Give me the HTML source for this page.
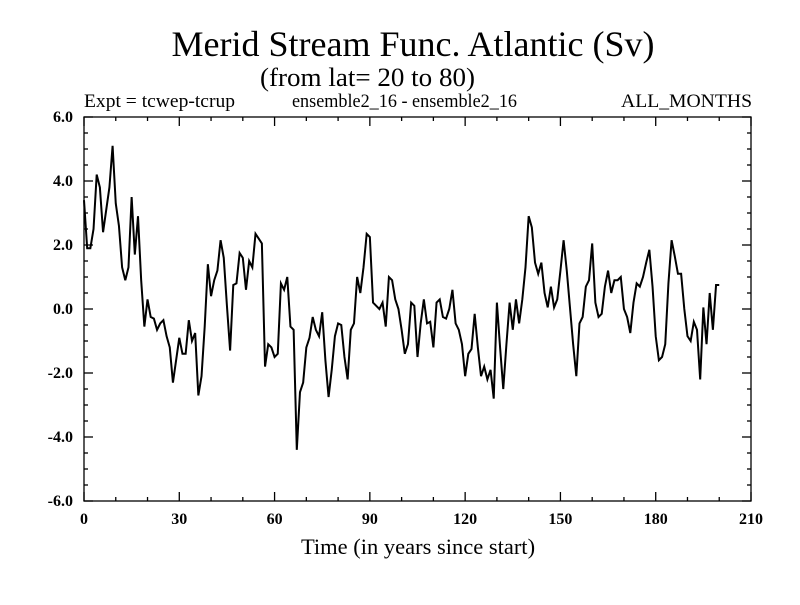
<!DOCTYPE html>
<html><head><meta charset="utf-8"><style>
body{margin:0;background:#fff}
svg text{font-family:"Liberation Serif",serif;fill:#000}
</style></head><body>
<svg id="chart" width="800" height="600" xmlns="http://www.w3.org/2000/svg">
<rect width="800" height="600" fill="#fff"/>
<text x="413" y="56" font-size="36" text-anchor="middle">Merid Stream Func. Atlantic (Sv)</text>
<text x="260" y="86" font-size="26" textLength="215" lengthAdjust="spacingAndGlyphs">(from lat= 20 to 80)</text>
<text x="84" y="107" font-size="19" textLength="151" lengthAdjust="spacingAndGlyphs">Expt = tcwep-tcrup</text>
<text x="292" y="107" font-size="19" textLength="225" lengthAdjust="spacingAndGlyphs">ensemble2_16 - ensemble2_16</text>
<text x="621" y="107" font-size="19" textLength="131" lengthAdjust="spacingAndGlyphs">ALL_MONTHS</text>
<text x="418" y="554" font-size="22.5" text-anchor="middle">Time (in years since start)</text>
<rect x="84" y="117" width="667" height="384" fill="none" stroke="#000" stroke-width="1.3"/>
<g id="ticks"></g>
<path id="series" fill="none" stroke="#000" stroke-width="2"/>
</svg>
<script>
const xTicks=[0,30,60,90,120,150,180,210];
const yTicks=[-6,-4,-2,0,2,4,6];
const yTickLabels=["-6.0","-4.0","-2.0","0.0","2.0","4.0","6.0"];
const values=[3.4,1.9,1.9,2.5,4.2,3.8,2.4,3.1,3.8,5.1,3.3,2.6,1.3,0.9,1.3,3.5,1.7,2.9,0.9,-0.55,
0.3,-0.25,-0.3,-0.65,-0.45,-0.35,-0.85,-1.2,-2.3,-1.6,-0.9,-1.4,-1.4,-0.35,-1.0,-0.75,-2.7,-2.1,-0.55,1.4,
0.4,0.9,1.2,2.15,1.6,0.1,-1.3,0.75,0.8,1.75,1.6,0.6,1.5,1.3,2.35,2.2,2.05,-1.8,-1.1,-1.2,
-1.5,-1.4,0.8,0.6,1.0,-0.55,-0.65,-4.4,-2.6,-2.3,-1.2,-0.9,-0.25,-0.65,-0.85,-0.1,-1.6,-2.75,-1.9,-0.85,
-0.45,-0.5,-1.5,-2.2,-0.65,-0.45,1.0,0.5,1.3,2.35,2.25,0.2,0.1,0,0.2,-0.55,1.0,0.9,0.3,0,
-0.65,-1.4,-1.1,0.2,0.1,-1.5,-0.45,0.3,-0.45,-0.4,-1.2,0.2,0.3,-0.25,-0.3,0,0.6,-0.45,-0.65,-1.1,
-2.1,-1.4,-1.25,-0.15,-1.2,-2.1,-1.8,-2.2,-1.9,-2.8,0.2,-1.2,-2.5,-1.1,0.2,-0.65,0.3,-0.45,0.3,1.3,
2.9,2.55,1.45,1.1,1.45,0.5,0.05,0.7,0.05,0.3,1.2,2.15,1.2,0.05,-1.1,-2.1,-0.45,-0.25,0.7,0.9,
2.05,0.2,-0.25,-0.15,0.7,1.2,0.5,0.9,0.9,1.0,0,-0.25,-0.75,0.2,0.8,0.7,1.0,1.45,1.85,0.7,
-0.85,-1.6,-1.5,-1.1,0.8,2.15,1.65,1.1,1.1,0,-0.85,-1.0,-0.4,-0.65,-2.2,0.05,-1.1,0.5,-0.65,0.75,0.75];
const X0=84,X1=751,Y0=501,Y1=117;
const xs=v=>X0+(v-0)/(210-0)*(X1-X0);
const ys=v=>Y0-(v+6)/12*(Y0-Y1);
const NS="http://www.w3.org/2000/svg";
const g=document.getElementById('ticks');
function line(x1,y1,x2,y2,name){const l=document.createElementNS(NS,'line');
l.setAttribute('x1',x1);l.setAttribute('y1',y1);l.setAttribute('x2',x2);l.setAttribute('y2',y2);
l.setAttribute('stroke','#000');l.setAttribute('stroke-width','1.3');


g.appendChild(l);}
function text(x,y,s,anchor,name){const t=document.createElementNS(NS,'text');
t.setAttribute('x',x);t.setAttribute('y',y);t.setAttribute('font-size','16');t.setAttribute('font-weight','bold');t.setAttribute('text-anchor',anchor);t.textContent=s;


g.appendChild(t);}
for(let v=0;v<=210;v+=10){const maj=v%30===0,L=maj?9:4,x=xs(v);
line(x,Y0,x,Y0-L,'x-tick');line(x,Y1,x,Y1+L,'x-tick-top');}
xTicks.forEach(v=>text(xs(v),524,String(v),'middle','x-tick-label'));
for(let v=-6;v<=6.001;v+=0.5){const maj=Math.abs(v/2-Math.round(v/2))<1e-6,L=maj?9:4,y=ys(v);
line(X0,y,X0+L,y,'y-tick');line(X1,y,X1-L,y,'y-tick-right');}
yTicks.forEach((v,i)=>text(73,ys(v)+5,yTickLabels[i],'end','y-tick-label'));
document.getElementById('series').setAttribute('d',values.map((v,i)=>(i?'L':'M')+xs(i).toFixed(2)+' '+ys(v).toFixed(2)).join(''));
</script>
</body></html>
